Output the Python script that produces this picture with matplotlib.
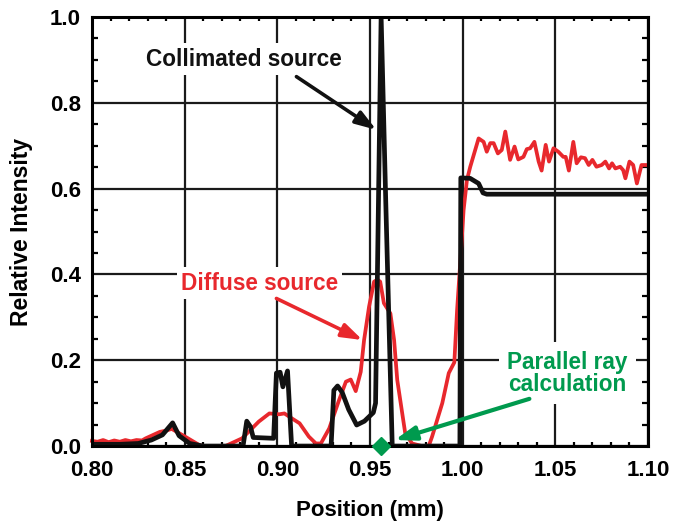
import matplotlib
matplotlib.use("Agg")
import matplotlib.pyplot as plt
from matplotlib.ticker import MultipleLocator

plt.rcParams['font.family'] = ['Liberation Sans', 'DejaVu Sans']
plt.rcParams['font.weight'] = 'bold'

# Collimated source (black)
x_col = [0.800, 0.815, 0.825, 0.832, 0.838, 0.8435, 0.847, 0.8527, 0.860, 0.8815,
         0.8835, 0.8855, 0.887, 0.898, 0.8995, 0.9015, 0.903, 0.9055, 0.9077, 0.929,
         0.9305, 0.9325, 0.935, 0.9385, 0.9428, 0.947, 0.9518, 0.953, 0.956, 0.9585,
         0.962, 0.9985, 0.999, 1.004, 1.0086, 1.011, 1.013, 1.100]
y_col = [0.004, 0.004, 0.006, 0.014, 0.026, 0.054, 0.024, 0.006, 0.0, 0.0,
         0.058, 0.045, 0.020, 0.018, 0.170, 0.172, 0.138, 0.175, 0.0, 0.0,
         0.130, 0.140, 0.125, 0.085, 0.049, 0.058, 0.078, 0.100, 1.000, 0.570,
         0.0, 0.0, 0.625, 0.624, 0.612, 0.590, 0.587, 0.587]

# Diffuse source (red)
x_dif = [0.800, 0.803, 0.806, 0.809, 0.812, 0.815, 0.818, 0.821, 0.824, 0.827,
         0.829, 0.8366, 0.840, 0.843, 0.847, 0.851, 0.858, 0.860, 0.872, 0.881,
         0.890, 0.8957, 0.901, 0.9038, 0.908, 0.912, 0.917, 0.9208, 0.9235, 0.928,
         0.9333, 0.937, 0.9396, 0.9423, 0.945, 0.9468, 0.9495, 0.9522, 0.954, 0.9555,
         0.9575, 0.961, 0.963, 0.9647, 0.9674, 0.969, 0.9727, 0.978, 0.9817, 0.9835,
         0.989, 0.9925, 0.9955, 0.997, 0.9988, 1.0005, 1.0023, 1.0041, 1.0086, 1.0113,
         1.013, 1.0149, 1.0167, 1.019, 1.0211, 1.023, 1.0256, 1.028, 1.030, 1.0328,
         1.0346, 1.0364, 1.0387, 1.041, 1.0426, 1.0448, 1.0466, 1.049, 1.0516, 1.0543,
         1.0556, 1.0573, 1.0597, 1.0615, 1.0638, 1.066, 1.068, 1.070, 1.0722, 1.075,
         1.077, 1.079, 1.0806, 1.0824, 1.085, 1.0866, 1.0878, 1.090, 1.092, 1.094,
         1.0965, 1.0995]
y_dif = [0.012, 0.010, 0.014, 0.009, 0.013, 0.010, 0.014, 0.011, 0.014, 0.013,
         0.018, 0.033, 0.036, 0.040, 0.030, 0.020, 0.002, 0.0, 0.0, 0.018,
         0.057, 0.076, 0.074, 0.076, 0.064, 0.053, 0.022, 0.006, 0.006, 0.041,
         0.107, 0.150, 0.155, 0.128, 0.173, 0.247, 0.325, 0.383, 0.388, 0.383,
         0.333, 0.309, 0.247, 0.154, 0.076, 0.030, 0.006, 0.0, 0.0, 0.022,
         0.100, 0.170, 0.195, 0.317, 0.434, 0.550, 0.620, 0.651, 0.717, 0.709,
         0.686, 0.706, 0.706, 0.682, 0.690, 0.733, 0.667, 0.698, 0.668, 0.674,
         0.692, 0.694, 0.709, 0.663, 0.642, 0.702, 0.663, 0.694, 0.686, 0.674,
         0.674, 0.642, 0.709, 0.659, 0.673, 0.671, 0.655, 0.667, 0.651, 0.655,
         0.663, 0.647, 0.659, 0.647, 0.651, 0.643, 0.624, 0.663, 0.655, 0.612,
         0.655, 0.655]

# Parallel ray calculation (green point)
x_par = [0.9557]
y_par = [0.0]

xticks = [0.80, 0.85, 0.90, 0.95, 1.00, 1.05, 1.10]
xticklabels = ['0.80', '0.85', '0.90', '0.95', '1.00', '1.05', '1.10']
yticks = [0.0, 0.2, 0.4, 0.6, 0.8, 1.0]
yticklabels = ['0.0', '0.2', '0.4', '0.6', '0.8', '1.0']

RED = '#e8282d'
GREEN = '#009a4e'
BLACK = '#111111'

fig = plt.figure(figsize=(6.75, 5.31), dpi=100)
ax = fig.add_axes([0.1363, 0.160, 0.8237, 0.808])

ax.set_xlim(0.80, 1.10)
ax.set_ylim(0.0, 1.0)
ax.set_xticks(xticks)
ax.set_xticklabels(xticklabels)
ax.set_yticks(yticks)
ax.set_yticklabels(yticklabels)
ax.xaxis.set_minor_locator(MultipleLocator(0.01))
ax.yaxis.set_minor_locator(MultipleLocator(0.05))
ax.tick_params(which='both', direction='in', top=True, right=True, labelsize=16, width=1.6)
ax.tick_params(which='major', length=0)
ax.tick_params(axis='x', which='major', pad=10)
ax.tick_params(axis='y', which='major', pad=8)
ax.tick_params(which='minor', length=4)
ax.tick_params(axis='x', which='minor', length=3)
ax.grid(True, which='major', color='#1a1a1a', linewidth=1.6, zorder=1)
ax.set_axisbelow(True)
for s in ax.spines.values():
    s.set_linewidth(2.2)
    s.set_zorder(6)

ax.plot(x_dif, y_dif, color=RED, linewidth=2.7, zorder=4, clip_on=False)
ax.plot(x_col, y_col, color=BLACK, linewidth=3.4, zorder=4.5, solid_joinstyle='round')
ax.plot(x_par, y_par, linestyle='none', marker='D', markersize=9.5, color=GREEN,
        zorder=7, clip_on=False)

ax.set_xlabel('Position (mm)', fontsize=16, fontweight='bold', labelpad=14)
ax.set_ylabel('Relative Intensity', fontsize=16.5, fontweight='bold', labelpad=12)

box = dict(facecolor='white', edgecolor='none', pad=3)
ax.text(0.8822, 0.902, 'Collimated source', fontsize=16.3, fontweight='bold', color=BLACK,
        ha='center', va='center', bbox=box, zorder=3)
ax.text(0.8905, 0.380, 'Diffuse source', fontsize=16.3, fontweight='bold', color=RED,
        ha='center', va='center', bbox=box, zorder=3)
ax.text(1.0565, 0.170, 'Parallel ray\ncalculation', fontsize=16.3, fontweight='bold', color=GREEN,
        ha='center', va='center', linespacing=0.95,
        bbox=dict(facecolor='white', edgecolor='none', pad=6), zorder=3)

def arrow(start, end, color, lw):
    ax.annotate('', xy=end, xytext=start, zorder=5,
                arrowprops=dict(arrowstyle='-|>,head_length=1.25,head_width=0.42', color=color,
                                lw=lw, shrinkA=0, shrinkB=0))

arrow((0.9103, 0.861), (0.9534, 0.737), BLACK, 2.6)
arrow((0.8995, 0.344), (0.9460, 0.247), RED, 2.6)
arrow((1.0360, 0.110), (0.9633, 0.014), GREEN, 3.0)

fig.savefig('out.png', dpi=100)
